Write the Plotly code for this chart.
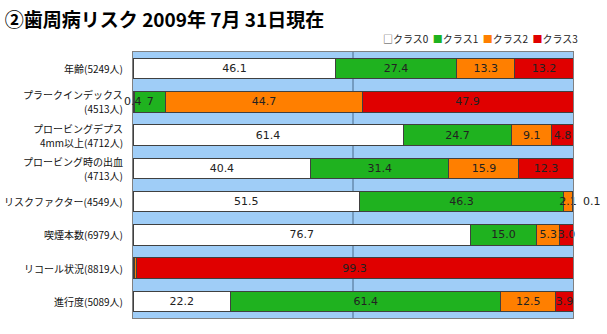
import plotly.graph_objects as go

# Risk categories (top to bottom) with respondent counts
categories = [
    "年齢(5249人)",
    "プラークインデックス<br>(4513人)",
    "プロービングデプス<br>4mm以上(4712人)",
    "プロービング時の出血<br>(4713人)",
    "リスクファクター(4549人)",
    "喫煙本数(6979人)",
    "リコール状況(8819人)",
    "進行度(5089人)",
]

# Share (%) of each risk class per category
class0 = [46.1, 0.4, 61.4, 40.4, 51.5, 76.7, 0.2, 22.2]
class1 = [27.4, 7, 24.7, 31.4, 46.3, 15.0, 0.2, 61.4]
class2 = [13.3, 44.7, 9.1, 15.9, 2.1, 5.3, 0.3, 12.5]
class3 = [13.2, 47.9, 4.8, 12.3, 0.1, 3.0, 99.3, 3.9]

series_names = ["クラス0", "クラス1", "クラス2", "クラス3"]
series_values = [class0, class1, class2, class3]
series_colors = ["#ffffff", "#1fb21f", "#ff7f00", "#e00000"]
legend_marks = ["□", "■", "■", "■"]

W, H = 607, 334
ML, MR, MT, MB = 133, 34, 52, 16
PLOT_W = W - ML - MR
PLOT_H = H - MT - MB

# Segments too thin to hold their label get it placed beside the bar instead
SMALL = 1.0
LABEL_FONT = dict(size=11, color="#222222", family="DejaVu Sans")
CAT_FONT = dict(size=10, color="#111111", family="Noto Sans CJK JP")
CAT_LINE = 14  # line pitch of the category labels, px

fig = go.Figure()
for name, vals, color in zip(series_names, series_values, series_colors):
    texts = [str(v) if v >= SMALL else "" for v in vals]
    fig.add_trace(go.Bar(
        name=name,
        y=categories,
        x=vals,
        orientation="h",
        marker=dict(color=color, line=dict(color="#404040", width=1)),
        text=texts,
        textposition="inside",
        insidetextanchor="middle",
        textangle=0,
        textfont=LABEL_FONT,
        cliponaxis=False,
        showlegend=False,
    ))

annotations = [
    # labels for thin segments: class 0 of plaque index, class 3 of risk factor
    dict(x=0, y=categories[1], text=str(class0[1]), xref="x", yref="y",
         showarrow=False, xanchor="center", font=LABEL_FONT),
    dict(x=100, y=categories[4], text=str(class3[4]), xref="x", yref="y",
         showarrow=False, xanchor="left", xshift=8, font=LABEL_FONT),
]

# Category labels, right-aligned beside the plot area, one annotation per line
for cat in categories:
    lines = cat.split("<br>")
    n = len(lines)
    for i, line in enumerate(lines):
        annotations.append(dict(
            x=0, y=cat, xref="paper", yref="y", text=line, showarrow=False,
            xanchor="right", yanchor="middle", xshift=-9,
            yshift=((n - 1) / 2 - i) * CAT_LINE, borderpad=0,
            font=CAT_FONT,
        ))

# Compact legend line above the top-right corner of the plot
legend_text = "  ".join(
    f"<span style='color:{'#404040' if c == '#ffffff' else c}'>{m}</span>{n}"
    for m, n, c in zip(legend_marks, series_names, series_colors)
)
annotations.append(dict(
    x=(580 - ML) / PLOT_W, y=(H - MB - 38) / PLOT_H, xref="paper", yref="paper",
    text=legend_text, showarrow=False, xanchor="right", yanchor="middle",
    font=dict(size=10, color="#222222", family="Noto Sans CJK JP"),
))

fig.update_layout(
    width=W,
    height=H,
    barmode="stack",
    bargap=0.38,
    paper_bgcolor="#ffffff",
    plot_bgcolor="#9fcdf7",
    margin=dict(l=ML, r=MR, t=MT, b=MB),
    uniformtext=dict(minsize=11, mode="show"),
    showlegend=False,
    title=dict(
        text="<b>②歯周病リスク 2009年 7月 31日現在</b>",
        x=0.008, xref="container", xanchor="left",
        y=1 - 20 / H, yref="container", yanchor="middle",
        font=dict(size=19, color="#000000", family="Noto Sans CJK JP"),
    ),
    xaxis=dict(
        range=[0, 100],
        showticklabels=False,
        ticks="",
        showgrid=False,
        zeroline=False,
        showline=True,
        linecolor="#808080",
        mirror=True,
        fixedrange=True,
        automargin=False,
    ),
    yaxis=dict(
        autorange="reversed",
        showgrid=False,
        showline=True,
        linecolor="#808080",
        mirror=True,
        ticks="",
        showticklabels=False,
        automargin=False,
    ),
    annotations=annotations,
    shapes=[
        dict(type="line", xref="x", yref="paper", x0=50, x1=50, y0=0, y1=1,
             line=dict(color="#4a6a8a", width=1), layer="below"),
    ],
)

fig.write_html("out.html")
